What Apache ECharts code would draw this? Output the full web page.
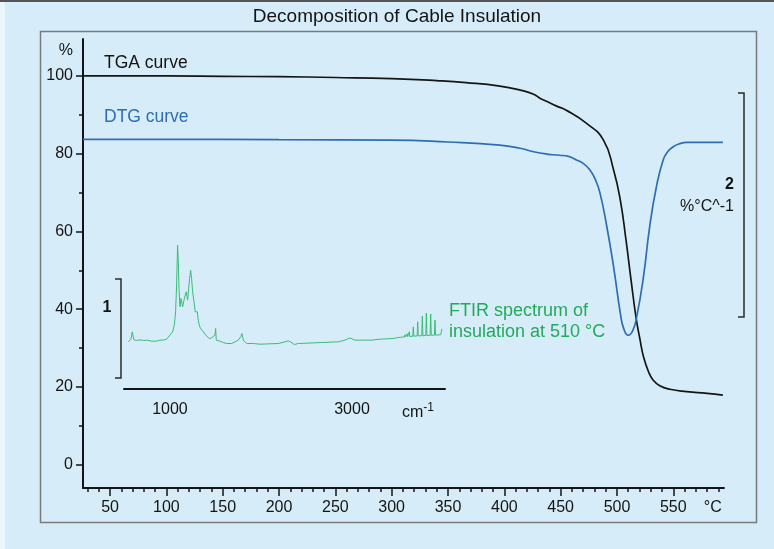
<!DOCTYPE html>
<html>
<head>
<meta charset="utf-8">
<script src="https://cdn.jsdelivr.net/npm/echarts@6/dist/echarts.min.js"></script>
<style>
  html, body { margin: 0; padding: 0; background: #d6edf9; }
  #chart { width: 774px; height: 549px; }
</style>
</head>
<body>
<div id="chart"></div>
<script>
// TGA curve: temperature (°C) / mass (%)
var tgaTemp = [26, 100, 150, 200, 250, 300, 340, 366, 396, 415, 426, 432, 438, 446, 455, 473, 488, 497, 503, 508, 512.5, 517, 520.5, 523.5, 528, 532, 538, 547, 562, 580, 594];
var tgaMass = [100, 100, 99.9, 99.8, 99.6, 99.3, 98.8, 98.3, 97.4, 96.3, 95.3, 94.2, 93.4, 92.3, 91.2, 87.8, 83.5, 75.8, 68, 57.8, 47.5, 37.7, 32.1, 27.8, 23.9, 21.8, 20.3, 19.4, 18.8, 18.35, 17.9];

// DTG curve (drawn on the % scale, offset)
var dtgTemp = [26, 100, 200, 300, 350, 396, 414, 426, 438, 449, 457, 464, 470, 476, 481, 485, 491, 497, 503, 506, 510, 514, 517.5, 523.5, 529, 535, 541, 545, 550, 555, 562, 594];
var dtgVal = [83.7, 83.7, 83.6, 83.5, 83.0, 82.2, 81.4, 80.5, 79.9, 79.6, 79.3, 78.4, 77.5, 75.8, 73.2, 69.8, 61.2, 50.9, 38.9, 35, 33.3, 34.5, 38.0, 48.3, 61.2, 71.5, 78.4, 80.5, 81.8, 82.5, 82.9, 82.9];

// FTIR spectrum at 510 °C: wavenumber (cm-1) / absorbance
var ftirWn = [542, 571, 586, 604, 634, 670, 707, 744, 799, 853, 872, 890, 927, 963, 1000, 1029, 1048, 1062, 1073, 1081, 1084, 1092, 1099, 1110, 1121, 1128, 1139, 1154, 1168, 1179, 1194, 1205, 1216, 1227, 1238, 1249, 1264, 1278, 1289, 1300, 1311, 1322, 1333, 1348, 1366, 1385, 1410, 1432, 1458, 1476, 1495, 1502, 1509, 1524, 1549, 1586, 1623, 1678, 1714, 1751, 1777, 1791, 1806, 1843, 1916, 1989, 2190, 2264, 2300, 2330, 2366, 2410, 2667, 2850, 2923, 2978, 3033, 3216, 3308, 3454, 3500, 3530, 3546, 3552, 3575, 3582, 3588, 3600, 3606, 3612, 3624, 3630, 3636, 3668, 3674, 3680, 3716, 3722, 3728, 3767, 3773, 3779, 3811, 3817, 3823, 3859, 3865, 3871, 3906, 3912, 3918, 3975, 3989];
var ftirAbs = [0.368, 0.395, 0.469, 0.388, 0.382, 0.388, 0.382, 0.385, 0.375, 0.375, 0.392, 0.385, 0.385, 0.395, 0.436, 0.469, 0.537, 0.672, 0.942, 1.246, 1.347, 1.178, 0.908, 0.723, 0.807, 0.824, 0.723, 0.790, 0.841, 0.875, 0.790, 0.908, 1.010, 1.094, 1.010, 0.875, 0.774, 0.672, 0.655, 0.672, 0.588, 0.537, 0.510, 0.503, 0.469, 0.453, 0.419, 0.402, 0.409, 0.395, 0.436, 0.503, 0.385, 0.368, 0.375, 0.361, 0.351, 0.351, 0.368, 0.385, 0.419, 0.453, 0.385, 0.351, 0.351, 0.344, 0.351, 0.368, 0.378, 0.365, 0.341, 0.351, 0.361, 0.368, 0.385, 0.408, 0.385, 0.385, 0.395, 0.402, 0.41, 0.415, 0.43, 0.415, 0.418, 0.44, 0.418, 0.42, 0.45, 0.42, 0.422, 0.47, 0.422, 0.425, 0.52, 0.425, 0.428, 0.57, 0.428, 0.43, 0.63, 0.43, 0.432, 0.66, 0.432, 0.434, 0.65, 0.434, 0.436, 0.59, 0.436, 0.44, 0.50];

// tick labels
var tempLabels = [50, 100, 150, 200, 250, 300, 350, 400, 450, 500, 550];
var tempMinor = [30, 40, 50, 60, 70, 80, 90, 100, 110, 120, 130, 140, 150, 160, 170, 180, 190, 200, 210, 220, 230, 240, 250, 260, 270, 280, 290, 300, 310, 320, 330, 340, 350, 360, 370, 380, 390, 400, 410, 420, 430, 440, 450, 460, 470, 480, 490, 500, 510, 520, 530, 540, 550, 560, 570, 580, 590];
var pctLabels = [0, 20, 40, 60, 80, 100];
var pctMinor = [0, 10, 20, 30, 40, 50, 60, 70, 80, 90, 100];
var wnLabels = [1000, 3000];

function zip(a, b) {
    return a.map(function (v, i) { return [v, b[i]]; });
}

var myChart = echarts.init(document.getElementById('chart'));
var fontBase = 'Liberation Sans, Arial, sans-serif';
var ink = '#141414';

var option = {
    backgroundColor: '#d6edf9',
    animation: false,
    grid: [
        { left: 83, right: 50, top: 39, bottom: 61 },
        { left: 124, right: 329, top: 240, bottom: 160 }
    ],
    xAxis: [
        {
            gridIndex: 0, type: 'value', min: 26, max: 595, position: 'bottom',
            axisLine: { onZero: false, lineStyle: { color: ink, width: 2 } },
            axisTick: { customValues: tempMinor, length: 4, lineStyle: { color: ink, width: 1.5 } },
            axisLabel: { show: false },
            splitLine: { show: false }
        },
        {
            gridIndex: 0, type: 'value', min: 26, max: 595, position: 'bottom',
            axisLine: { show: false, onZero: false },
            axisTick: { customValues: tempLabels, length: 8, lineStyle: { color: ink, width: 1.5 } },
            axisLabel: {
                customValues: tempLabels.concat([585]),
                margin: 12, color: ink, fontSize: 16, fontFamily: fontBase,
                formatter: function (v) { return v > 560 ? '°C' : String(v); }
            },
            splitLine: { show: false }
        },
        {
            gridIndex: 1, type: 'value', min: 495, max: 4022, position: 'bottom',
            axisLine: { onZero: false, lineStyle: { color: ink, width: 2 } },
            axisTick: { show: false },
            axisLabel: {
                customValues: wnLabels.concat([3725]),
                margin: 13, color: ink, fontSize: 16, fontFamily: fontBase,
                formatter: function (v) { return v > 3500 ? 'cm{sup|-1}' : String(v); },
                rich: { sup: { fontSize: 12, fontFamily: fontBase, color: ink, verticalAlign: 'top', padding: [0, 0, 10, 0] } }
            },
            splitLine: { show: false }
        }
    ],
    yAxis: [
        {
            gridIndex: 0, type: 'value', min: -6, max: 109.5, position: 'left',
            axisLine: { onZero: false, lineStyle: { color: ink, width: 2 } },
            axisTick: { customValues: pctMinor, length: 4, lineStyle: { color: ink, width: 1.5 } },
            axisLabel: { show: false },
            splitLine: { show: false }
        },
        {
            gridIndex: 0, type: 'value', min: -6, max: 109.5, position: 'left',
            axisLine: { show: false, onZero: false },
            axisTick: { customValues: pctLabels, length: 7, lineStyle: { color: ink, width: 1.5 } },
            axisLabel: {
                customValues: pctLabels.concat([106.4]),
                margin: 10, color: ink, fontSize: 16, fontFamily: fontBase,
                formatter: function (v) { return v > 101 ? '%' : String(v); }
            },
            splitLine: { show: false }
        },
        {
            gridIndex: 1, type: 'value', min: -0.11, max: 1.4, show: false
        }
    ],
    series: [
        {
            name: 'TGA curve', type: 'line', xAxisIndex: 0, yAxisIndex: 0,
            data: zip(tgaTemp, tgaMass),
            smooth: 0.5, showSymbol: false,
            lineStyle: { color: '#151515', width: 1.7 }
        },
        {
            name: 'DTG curve', type: 'line', xAxisIndex: 0, yAxisIndex: 0,
            data: zip(dtgTemp, dtgVal),
            smooth: 0.5, showSymbol: false,
            lineStyle: { color: '#2f6db3', width: 1.7 }
        },
        {
            name: 'FTIR', type: 'line', xAxisIndex: 2, yAxisIndex: 2,
            data: zip(ftirWn, ftirAbs),
            showSymbol: false, clip: false,
            lineStyle: { color: '#3dba78', width: 1 }
        }
    ],
    graphic: [
        { type: 'rect', shape: { x: 0, y: 0, width: 774, height: 2 }, style: { fill: '#555' }, silent: true },
        { type: 'rect', shape: { x: 0, y: 2, width: 5, height: 547 }, style: { fill: '#eaf6fc' }, silent: true },
        { type: 'rect', shape: { x: 40.5, y: 31.5, width: 716, height: 491 }, style: { fill: 'none', stroke: '#7a7a7a', lineWidth: 1.5 }, silent: true },
        { type: 'text', style: { text: 'Decomposition of Cable Insulation', x: 397, y: 17, textAlign: 'center', textVerticalAlign: 'middle', fill: ink, font: '19px ' + fontBase } },
        { type: 'text', style: { text: 'TGA curve', x: 104, y: 63, textAlign: 'left', textVerticalAlign: 'middle', fill: ink, font: '17.5px ' + fontBase } },
        { type: 'text', style: { text: 'DTG curve', x: 104, y: 117, textAlign: 'left', textVerticalAlign: 'middle', fill: '#2f6db3', font: '17.5px ' + fontBase } },
        { type: 'text', style: { text: 'FTIR spectrum of', x: 449, y: 311, textAlign: 'left', textVerticalAlign: 'middle', fill: '#24a95c', font: '18px ' + fontBase } },
        { type: 'text', style: { text: 'insulation at 510 °C', x: 449, y: 332, textAlign: 'left', textVerticalAlign: 'middle', fill: '#24a95c', font: '18px ' + fontBase } },
        { type: 'polyline', shape: { points: [[115, 279], [121, 279], [121, 378], [115, 378]] }, style: { fill: 'none', stroke: '#2a2a2a', lineWidth: 1.5 } },
        { type: 'text', style: { text: '1', x: 107, y: 308, textAlign: 'center', textVerticalAlign: 'middle', fill: ink, font: 'bold 16px ' + fontBase } },
        { type: 'polyline', shape: { points: [[738, 93], [744, 93], [744, 317], [738, 317]] }, style: { fill: 'none', stroke: '#2a2a2a', lineWidth: 1.5 } },
        { type: 'text', style: { text: '2', x: 734, y: 185, textAlign: 'right', textVerticalAlign: 'middle', fill: ink, font: 'bold 16px ' + fontBase } },
        { type: 'text', style: { text: '%°C^-1', x: 734, y: 207, textAlign: 'right', textVerticalAlign: 'middle', fill: ink, font: '16px ' + fontBase } }
    ]
};

myChart.setOption(option);
</script>
</body>
</html>
